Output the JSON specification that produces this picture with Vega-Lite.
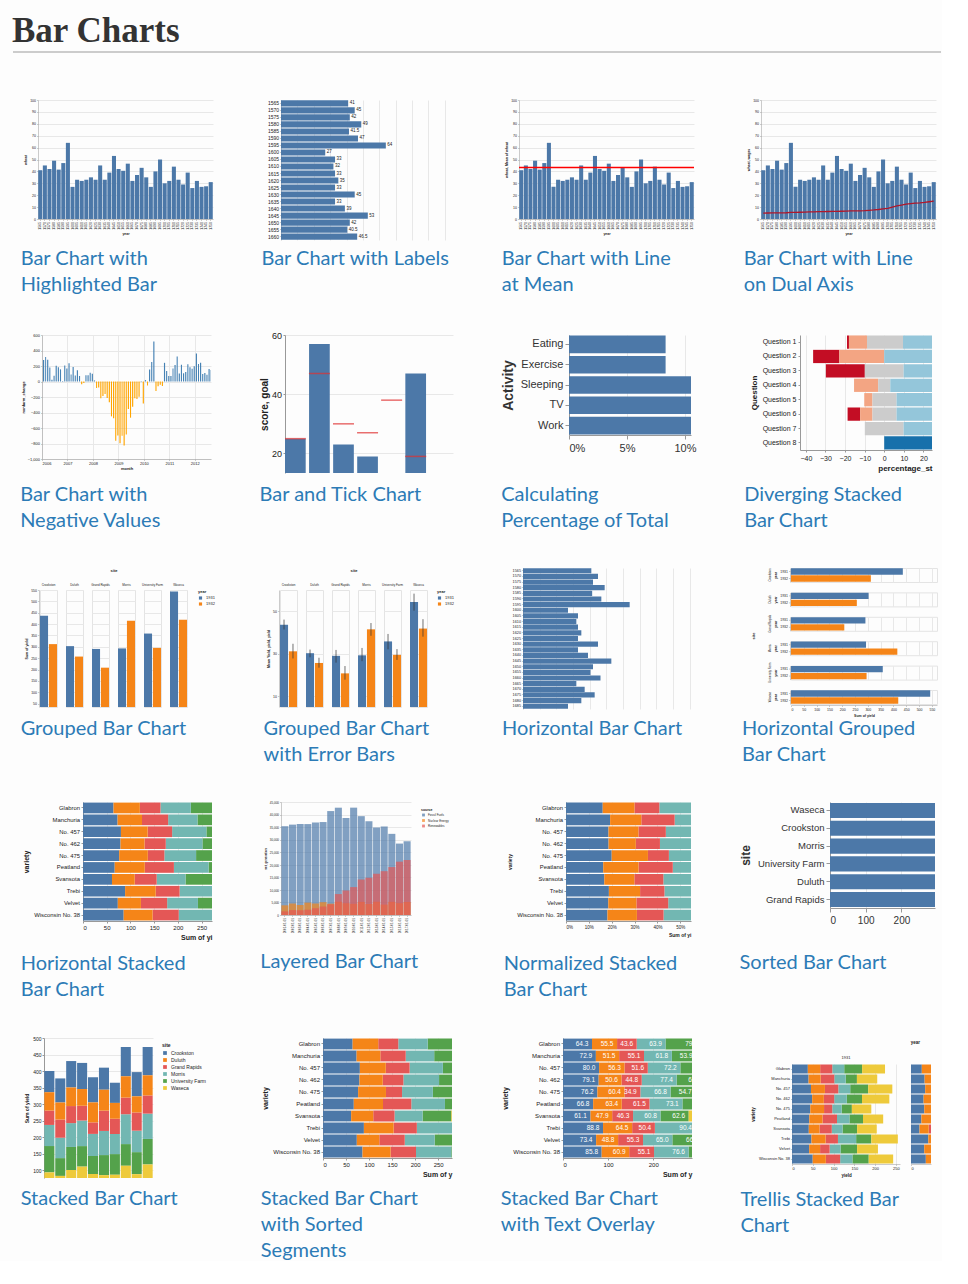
{
"$schema":"https://vega.github.io/schema/vega-lite/v6.json",
"background":"#fdfdfd",
"padding":{"left":12,"top":14,"right":0,"bottom":0},
"title":{"text":"Bar Charts","orient":"top","anchor":"start","font":"Liberation Serif","fontSize":35,"fontWeight":"bold","color":"#333333","offset":2},
"config":{
 "view":{"stroke":null},
 "font":"Liberation Sans",
 "title":{"orient":"bottom","anchor":"start","font":"Lato","fontSize":20,"fontWeight":"normal","color":"#2c7bb6"},
 "axis":{"gridColor":"#e8e8e8","domainColor":"#999999","tickColor":"#999999","labelColor":"#222222","titleColor":"#222222"},
 "legend":{"labelColor":"#222222","titleColor":"#222222"},
 "header":{"labelColor":"#222222","titleColor":"#222222"}
},
"datasets":{
 "wheat":[{"year":1565,"wheat":41,"wages":5},{"year":1570,"wheat":45,"wages":5.05},{"year":1575,"wheat":42,"wages":5.08},{"year":1580,"wheat":49,"wages":5.12},{"year":1585,"wheat":41.5,"wages":5.15},{"year":1590,"wheat":47,"wages":5.25},{"year":1595,"wheat":64,"wages":5.54},{"year":1600,"wheat":27,"wages":5.61},{"year":1605,"wheat":33,"wages":5.69},{"year":1610,"wheat":32,"wages":5.78},{"year":1615,"wheat":33,"wages":5.94},{"year":1620,"wheat":35,"wages":6.01},{"year":1625,"wheat":33,"wages":6.12},{"year":1630,"wheat":45,"wages":6.22},{"year":1635,"wheat":33,"wages":6.3},{"year":1640,"wheat":39,"wages":6.37},{"year":1645,"wheat":53,"wages":6.45},{"year":1650,"wheat":42,"wages":6.5},{"year":1655,"wheat":40.5,"wages":6.6},{"year":1660,"wheat":46.5,"wages":6.75},{"year":1665,"wheat":32,"wages":6.8},{"year":1670,"wheat":37,"wages":6.9},{"year":1675,"wheat":43,"wages":7},{"year":1680,"wheat":35,"wages":7.3},{"year":1685,"wheat":27,"wages":7.6},{"year":1690,"wheat":40,"wages":8},{"year":1695,"wheat":50,"wages":8.5},{"year":1700,"wheat":30,"wages":9},{"year":1705,"wheat":32,"wages":10},{"year":1710,"wheat":44,"wages":11},{"year":1715,"wheat":33,"wages":11.75},{"year":1720,"wheat":29,"wages":12.5},{"year":1725,"wheat":39,"wages":13},{"year":1730,"wheat":26,"wages":13.3},{"year":1735,"wheat":32,"wages":13.6},{"year":1740,"wheat":27,"wages":14},{"year":1745,"wheat":27.5,"wages":14.5},{"year":1750,"wheat":31,"wages":15},{"year":1755,"wheat":35.5,"wages":15.7},{"year":1760,"wheat":31,"wages":16.5},{"year":1765,"wheat":43,"wages":17.6},{"year":1770,"wheat":47,"wages":18.5},{"year":1775,"wheat":44,"wages":19.5},{"year":1780,"wheat":46,"wages":21},{"year":1785,"wheat":42,"wages":23},{"year":1790,"wheat":47.5,"wages":25.5},{"year":1795,"wheat":76,"wages":27.5},{"year":1800,"wheat":79,"wages":28.5},{"year":1805,"wheat":81,"wages":29.5},{"year":1810,"wheat":99,"wages":30},{"year":1815,"wheat":78},{"year":1820,"wheat":54},{"year":1821,"wheat":54}],
 "emp":[{"month":"2006-01-01","change":277},{"month":"2006-02-01","change":315},{"month":"2006-03-01","change":280},{"month":"2006-04-01","change":182},{"month":"2006-05-01","change":24},{"month":"2006-06-01","change":73},{"month":"2006-07-01","change":204},{"month":"2006-08-01","change":183},{"month":"2006-09-01","change":157},{"month":"2006-10-01","change":7},{"month":"2006-11-01","change":205},{"month":"2006-12-01","change":169},
 {"month":"2007-01-01","change":236},{"month":"2007-02-01","change":90},{"month":"2007-03-01","change":188},{"month":"2007-04-01","change":78},{"month":"2007-05-01","change":144},{"month":"2007-06-01","change":71},{"month":"2007-07-01","change":-34},{"month":"2007-08-01","change":-20},{"month":"2007-09-01","change":80},{"month":"2007-10-01","change":82},{"month":"2007-11-01","change":112},{"month":"2007-12-01","change":100},
 {"month":"2008-01-01","change":14},{"month":"2008-02-01","change":-85},{"month":"2008-03-01","change":-78},{"month":"2008-04-01","change":-215},{"month":"2008-05-01","change":-186},{"month":"2008-06-01","change":-162},{"month":"2008-07-01","change":-213},{"month":"2008-08-01","change":-267},{"month":"2008-09-01","change":-450},{"month":"2008-10-01","change":-474},{"month":"2008-11-01","change":-765},{"month":"2008-12-01","change":-697},
 {"month":"2009-01-01","change":-798},{"month":"2009-02-01","change":-701},{"month":"2009-03-01","change":-826},{"month":"2009-04-01","change":-684},{"month":"2009-05-01","change":-354},{"month":"2009-06-01","change":-467},{"month":"2009-07-01","change":-327},{"month":"2009-08-01","change":-216},{"month":"2009-09-01","change":-227},{"month":"2009-10-01","change":-198},{"month":"2009-11-01","change":6},{"month":"2009-12-01","change":-283},
 {"month":"2010-01-01","change":18},{"month":"2010-02-01","change":-50},{"month":"2010-03-01","change":156},{"month":"2010-04-01","change":251},{"month":"2010-05-01","change":516},{"month":"2010-06-01","change":-122},{"month":"2010-07-01","change":-61},{"month":"2010-08-01","change":-42},{"month":"2010-09-01","change":-57},{"month":"2010-10-01","change":241},{"month":"2010-11-01","change":137},{"month":"2010-12-01","change":71},
 {"month":"2011-01-01","change":70},{"month":"2011-02-01","change":168},{"month":"2011-03-01","change":212},{"month":"2011-04-01","change":322},{"month":"2011-05-01","change":102},{"month":"2011-06-01","change":217},{"month":"2011-07-01","change":106},{"month":"2011-08-01","change":122},{"month":"2011-09-01","change":221},{"month":"2011-10-01","change":183},{"month":"2011-11-01","change":164},{"month":"2011-12-01","change":196},
 {"month":"2012-01-01","change":360},{"month":"2012-02-01","change":226},{"month":"2012-03-01","change":243},{"month":"2012-04-01","change":96},{"month":"2012-05-01","change":110},{"month":"2012-06-01","change":88},{"month":"2012-07-01","change":160},{"month":"2012-08-01","change":150}],
 "proj":[{"project":"a","score":25,"goal":25},{"project":"b","score":57,"goal":47},{"project":"c","score":23,"goal":30},{"project":"d","score":19,"goal":27},{"project":"e","score":10,"goal":38},{"project":"f","score":47,"goal":19}],
 "act":[{"Activity":"Sleeping","PercentOfTotal":0.3333},{"Activity":"Eating","PercentOfTotal":0.0833},{"Activity":"TV","PercentOfTotal":0.1667},{"Activity":"Work","PercentOfTotal":0.3333},{"Activity":"Exercise","PercentOfTotal":0.0833}],
 "likert":[
  {"question":"Question 1","type":"Strongly disagree","start":-19.0,"end":-18.0},{"question":"Question 1","type":"Disagree","start":-18.0,"end":-8.8},{"question":"Question 1","type":"Neither agree nor disagree","start":-8.8,"end":9.6},{"question":"Question 1","type":"Agree","start":9.6,"end":60},
  {"question":"Question 2","type":"Strongly disagree","start":-36.3,"end":-22.9},{"question":"Question 2","type":"Disagree","start":-22.9,"end":0},{"question":"Question 2","type":"Agree","start":0,"end":60},
  {"question":"Question 3","type":"Strongly disagree","start":-29.8,"end":-9.9},{"question":"Question 3","type":"Neither agree nor disagree","start":-9.9,"end":9.9},{"question":"Question 3","type":"Agree","start":9.9,"end":60},
  {"question":"Question 4","type":"Disagree","start":-15.4,"end":-3.1},{"question":"Question 4","type":"Neither agree nor disagree","start":-3.1,"end":3.1},{"question":"Question 4","type":"Agree","start":3.1,"end":60},
  {"question":"Question 5","type":"Disagree","start":-10.2,"end":-6.0},{"question":"Question 5","type":"Neither agree nor disagree","start":-6.0,"end":6.3},{"question":"Question 5","type":"Agree","start":6.3,"end":60},
  {"question":"Question 6","type":"Strongly disagree","start":-18.7,"end":-12.3},{"question":"Question 6","type":"Disagree","start":-12.3,"end":-6.0},{"question":"Question 6","type":"Neither agree nor disagree","start":-6.0,"end":6.3},{"question":"Question 6","type":"Agree","start":6.3,"end":60},
  {"question":"Question 7","type":"Neither agree nor disagree","start":-9.9,"end":9.9},{"question":"Question 7","type":"Agree","start":9.9,"end":60},
  {"question":"Question 8","type":"Strongly agree","start":0,"end":60}],
 "iowa":[
  {"year":"2001-01-01","source":"Fossil Fuels","net_generation":35361},{"year":"2002-01-01","source":"Fossil Fuels","net_generation":35991},{"year":"2003-01-01","source":"Fossil Fuels","net_generation":36234},{"year":"2004-01-01","source":"Fossil Fuels","net_generation":36205},{"year":"2005-01-01","source":"Fossil Fuels","net_generation":36883},{"year":"2006-01-01","source":"Fossil Fuels","net_generation":37014},{"year":"2007-01-01","source":"Fossil Fuels","net_generation":41389},{"year":"2008-01-01","source":"Fossil Fuels","net_generation":42734},{"year":"2009-01-01","source":"Fossil Fuels","net_generation":38620},{"year":"2010-01-01","source":"Fossil Fuels","net_generation":42750},{"year":"2011-01-01","source":"Fossil Fuels","net_generation":39361},{"year":"2012-01-01","source":"Fossil Fuels","net_generation":37379},{"year":"2013-01-01","source":"Fossil Fuels","net_generation":34873},{"year":"2014-01-01","source":"Fossil Fuels","net_generation":35250},{"year":"2015-01-01","source":"Fossil Fuels","net_generation":32319},{"year":"2016-01-01","source":"Fossil Fuels","net_generation":28437},{"year":"2017-01-01","source":"Fossil Fuels","net_generation":29329},
  {"year":"2001-01-01","source":"Nuclear Energy","net_generation":3853},{"year":"2002-01-01","source":"Nuclear Energy","net_generation":4574},{"year":"2003-01-01","source":"Nuclear Energy","net_generation":3988},{"year":"2004-01-01","source":"Nuclear Energy","net_generation":4929},{"year":"2005-01-01","source":"Nuclear Energy","net_generation":4538},{"year":"2006-01-01","source":"Nuclear Energy","net_generation":5095},{"year":"2007-01-01","source":"Nuclear Energy","net_generation":4519},{"year":"2008-01-01","source":"Nuclear Energy","net_generation":5282},{"year":"2009-01-01","source":"Nuclear Energy","net_generation":4679},{"year":"2010-01-01","source":"Nuclear Energy","net_generation":4451},{"year":"2011-01-01","source":"Nuclear Energy","net_generation":5215},{"year":"2012-01-01","source":"Nuclear Energy","net_generation":4347},{"year":"2013-01-01","source":"Nuclear Energy","net_generation":5321},{"year":"2014-01-01","source":"Nuclear Energy","net_generation":4152},{"year":"2015-01-01","source":"Nuclear Energy","net_generation":5243},{"year":"2016-01-01","source":"Nuclear Energy","net_generation":4703},{"year":"2017-01-01","source":"Nuclear Energy","net_generation":5214},
  {"year":"2001-01-01","source":"Renewables","net_generation":1437},{"year":"2002-01-01","source":"Renewables","net_generation":1963},{"year":"2003-01-01","source":"Renewables","net_generation":1885},{"year":"2004-01-01","source":"Renewables","net_generation":2102},{"year":"2005-01-01","source":"Renewables","net_generation":2724},{"year":"2006-01-01","source":"Renewables","net_generation":3364},{"year":"2007-01-01","source":"Renewables","net_generation":4285},{"year":"2008-01-01","source":"Renewables","net_generation":8340},{"year":"2009-01-01","source":"Renewables","net_generation":9771},{"year":"2010-01-01","source":"Renewables","net_generation":11114},{"year":"2011-01-01","source":"Renewables","net_generation":14129},{"year":"2012-01-01","source":"Renewables","net_generation":14789},{"year":"2013-01-01","source":"Renewables","net_generation":16476},{"year":"2014-01-01","source":"Renewables","net_generation":17452},{"year":"2015-01-01","source":"Renewables","net_generation":19091},{"year":"2016-01-01","source":"Renewables","net_generation":21241},{"year":"2017-01-01","source":"Renewables","net_generation":21933}],
 "barley":[
  {"variety":"Manchuria","year":1931,"site":"University Farm","yield":27.0},{"variety":"Manchuria","year":1931,"site":"Waseca","yield":48.87},{"variety":"Manchuria","year":1931,"site":"Morris","yield":27.43},{"variety":"Manchuria","year":1931,"site":"Crookston","yield":39.93},{"variety":"Manchuria","year":1931,"site":"Grand Rapids","yield":32.97},{"variety":"Manchuria","year":1931,"site":"Duluth","yield":28.97},
  {"variety":"Glabron","year":1931,"site":"University Farm","yield":43.07},{"variety":"Glabron","year":1931,"site":"Waseca","yield":55.2},{"variety":"Glabron","year":1931,"site":"Morris","yield":28.77},{"variety":"Glabron","year":1931,"site":"Crookston","yield":38.13},{"variety":"Glabron","year":1931,"site":"Grand Rapids","yield":29.13},{"variety":"Glabron","year":1931,"site":"Duluth","yield":29.67},
  {"variety":"Svansota","year":1931,"site":"University Farm","yield":35.13},{"variety":"Svansota","year":1931,"site":"Waseca","yield":47.33},{"variety":"Svansota","year":1931,"site":"Morris","yield":25.77},{"variety":"Svansota","year":1931,"site":"Crookston","yield":40.47},{"variety":"Svansota","year":1931,"site":"Grand Rapids","yield":29.67},{"variety":"Svansota","year":1931,"site":"Duluth","yield":25.7},
  {"variety":"Velvet","year":1931,"site":"University Farm","yield":39.9},{"variety":"Velvet","year":1931,"site":"Waseca","yield":50.23},{"variety":"Velvet","year":1931,"site":"Morris","yield":26.13},{"variety":"Velvet","year":1931,"site":"Crookston","yield":41.33},{"variety":"Velvet","year":1931,"site":"Grand Rapids","yield":23.03},{"variety":"Velvet","year":1931,"site":"Duluth","yield":26.3},
  {"variety":"Trebi","year":1931,"site":"University Farm","yield":36.57},{"variety":"Trebi","year":1931,"site":"Waseca","yield":63.83},{"variety":"Trebi","year":1931,"site":"Morris","yield":43.77},{"variety":"Trebi","year":1931,"site":"Crookston","yield":46.93},{"variety":"Trebi","year":1931,"site":"Grand Rapids","yield":29.77},{"variety":"Trebi","year":1931,"site":"Duluth","yield":33.93},
  {"variety":"No. 457","year":1931,"site":"University Farm","yield":43.27},{"variety":"No. 457","year":1931,"site":"Waseca","yield":58.1},{"variety":"No. 457","year":1931,"site":"Morris","yield":28.7},{"variety":"No. 457","year":1931,"site":"Crookston","yield":45.67},{"variety":"No. 457","year":1931,"site":"Grand Rapids","yield":32.17},{"variety":"No. 457","year":1931,"site":"Duluth","yield":33.6},
  {"variety":"No. 462","year":1931,"site":"University Farm","yield":36.6},{"variety":"No. 462","year":1931,"site":"Waseca","yield":65.77},{"variety":"No. 462","year":1931,"site":"Morris","yield":30.37},{"variety":"No. 462","year":1931,"site":"Crookston","yield":48.57},{"variety":"No. 462","year":1931,"site":"Grand Rapids","yield":24.93},{"variety":"No. 462","year":1931,"site":"Duluth","yield":28.1},
  {"variety":"Peatland","year":1931,"site":"University Farm","yield":32.77},{"variety":"Peatland","year":1931,"site":"Waseca","yield":48.57},{"variety":"Peatland","year":1931,"site":"Morris","yield":29.87},{"variety":"Peatland","year":1931,"site":"Crookston","yield":41.6},{"variety":"Peatland","year":1931,"site":"Grand Rapids","yield":34.7},{"variety":"Peatland","year":1931,"site":"Duluth","yield":32.0},
  {"variety":"No. 475","year":1931,"site":"University Farm","yield":24.67},{"variety":"No. 475","year":1931,"site":"Waseca","yield":46.77},{"variety":"No. 475","year":1931,"site":"Morris","yield":22.6},{"variety":"No. 475","year":1931,"site":"Crookston","yield":44.1},{"variety":"No. 475","year":1931,"site":"Grand Rapids","yield":19.7},{"variety":"No. 475","year":1931,"site":"Duluth","yield":33.07},
  {"variety":"Wisconsin No. 38","year":1931,"site":"University Farm","yield":39.3},{"variety":"Wisconsin No. 38","year":1931,"site":"Waseca","yield":58.8},{"variety":"Wisconsin No. 38","year":1931,"site":"Morris","yield":29.47},{"variety":"Wisconsin No. 38","year":1931,"site":"Crookston","yield":49.87},{"variety":"Wisconsin No. 38","year":1931,"site":"Grand Rapids","yield":34.47},{"variety":"Wisconsin No. 38","year":1931,"site":"Duluth","yield":31.6},
  {"variety":"Manchuria","year":1932,"site":"University Farm","yield":26.9},{"variety":"Manchuria","year":1932,"site":"Waseca","yield":33.47},{"variety":"Manchuria","year":1932,"site":"Morris","yield":34.37},{"variety":"Manchuria","year":1932,"site":"Crookston","yield":32.97},{"variety":"Manchuria","year":1932,"site":"Grand Rapids","yield":22.13},{"variety":"Manchuria","year":1932,"site":"Duluth","yield":22.57},
  {"variety":"Glabron","year":1932,"site":"University Farm","yield":36.8},{"variety":"Glabron","year":1932,"site":"Waseca","yield":37.73},{"variety":"Glabron","year":1932,"site":"Morris","yield":35.13},{"variety":"Glabron","year":1932,"site":"Crookston","yield":26.17},{"variety":"Glabron","year":1932,"site":"Grand Rapids","yield":14.43},{"variety":"Glabron","year":1932,"site":"Duluth","yield":25.87},
  {"variety":"Svansota","year":1932,"site":"University Farm","yield":27.43},{"variety":"Svansota","year":1932,"site":"Waseca","yield":38.5},{"variety":"Svansota","year":1932,"site":"Morris","yield":35.03},{"variety":"Svansota","year":1932,"site":"Crookston","yield":20.63},{"variety":"Svansota","year":1932,"site":"Grand Rapids","yield":16.63},{"variety":"Svansota","year":1932,"site":"Duluth","yield":22.23},
  {"variety":"Velvet","year":1932,"site":"University Farm","yield":26.8},{"variety":"Velvet","year":1932,"site":"Waseca","yield":37.4},{"variety":"Velvet","year":1932,"site":"Morris","yield":38.83},{"variety":"Velvet","year":1932,"site":"Crookston","yield":32.07},{"variety":"Velvet","year":1932,"site":"Grand Rapids","yield":32.23},{"variety":"Velvet","year":1932,"site":"Duluth","yield":22.47},
  {"variety":"Trebi","year":1932,"site":"University Farm","yield":29.07},{"variety":"Trebi","year":1932,"site":"Waseca","yield":49.23},{"variety":"Trebi","year":1932,"site":"Morris","yield":46.63},{"variety":"Trebi","year":1932,"site":"Crookston","yield":41.83},{"variety":"Trebi","year":1932,"site":"Grand Rapids","yield":20.63},{"variety":"Trebi","year":1932,"site":"Duluth","yield":30.6},
  {"variety":"No. 457","year":1932,"site":"University Farm","yield":26.43},{"variety":"No. 457","year":1932,"site":"Waseca","yield":42.2},{"variety":"No. 457","year":1932,"site":"Morris","yield":43.53},{"variety":"No. 457","year":1932,"site":"Crookston","yield":34.33},{"variety":"No. 457","year":1932,"site":"Grand Rapids","yield":19.47},{"variety":"No. 457","year":1932,"site":"Duluth","yield":22.7},
  {"variety":"No. 462","year":1932,"site":"University Farm","yield":25.57},{"variety":"No. 462","year":1932,"site":"Waseca","yield":44.7},{"variety":"No. 462","year":1932,"site":"Morris","yield":47.0},{"variety":"No. 462","year":1932,"site":"Crookston","yield":30.53},{"variety":"No. 462","year":1932,"site":"Grand Rapids","yield":19.9},{"variety":"No. 462","year":1932,"site":"Duluth","yield":22.5},
  {"variety":"Peatland","year":1932,"site":"University Farm","yield":28.07},{"variety":"Peatland","year":1932,"site":"Waseca","yield":36.03},{"variety":"Peatland","year":1932,"site":"Morris","yield":43.2},{"variety":"Peatland","year":1932,"site":"Crookston","yield":25.23},{"variety":"Peatland","year":1932,"site":"Grand Rapids","yield":26.77},{"variety":"Peatland","year":1932,"site":"Duluth","yield":31.37},
  {"variety":"No. 475","year":1932,"site":"University Farm","yield":30.0},{"variety":"No. 475","year":1932,"site":"Waseca","yield":41.27},{"variety":"No. 475","year":1932,"site":"Morris","yield":44.23},{"variety":"No. 475","year":1932,"site":"Crookston","yield":32.13},{"variety":"No. 475","year":1932,"site":"Grand Rapids","yield":15.23},{"variety":"No. 475","year":1932,"site":"Duluth","yield":27.37},
  {"variety":"Wisconsin No. 38","year":1932,"site":"University Farm","yield":38.0},{"variety":"Wisconsin No. 38","year":1932,"site":"Waseca","yield":58.17},{"variety":"Wisconsin No. 38","year":1932,"site":"Morris","yield":47.17},{"variety":"Wisconsin No. 38","year":1932,"site":"Crookston","yield":35.9},{"variety":"Wisconsin No. 38","year":1932,"site":"Grand Rapids","yield":20.67},{"variety":"Wisconsin No. 38","year":1932,"site":"Duluth","yield":29.33}],
 "none":[]
},
"spacing":45,
"resolve":{"scale":{"color":"independent"},"legend":{"color":"independent"}},
"vconcat":[
 {"width":922,"height":1,"data":{"values":[{"a":0,"b":1,"c":0}]},"mark":{"type":"rule","color":"#cccccc","strokeWidth":2},
  "encoding":{"x":{"field":"a","type":"quantitative","scale":{"domain":[0,1],"range":[-6,922]},"axis":null},"x2":{"field":"b"},"y":{"field":"c","type":"quantitative","scale":{"domain":[0,1]},"axis":null}}},
 {"spacing":36,"resolve":{"scale":{"color":"independent"},"legend":{"color":"independent"}},"vconcat":[
  {"spacing":0,"resolve":{"scale":{"color":"independent"},"legend":{"color":"independent"}},"hconcat":[
   {"width":1,"height":1,"data":{"name":"none"},"mark":{"type":"rule"},"encoding":{}},
   {"spacing":48,"resolve":{"scale":{"color":"independent"},"legend":{"color":"independent"}},"hconcat":[
    {"title":{"text":["Bar Chart with","Highlighted Bar"],"lineHeight":26,"baseline":"top","offset":14,"dx":-3},
     "width":175,"height":119,"data":{"name":"wheat"},"transform":[{"filter":"datum.year <= 1750"}],"mark":{"type":"bar","color":"#4c78a8"},
     "encoding":{"x":{"field":"year","type":"ordinal","scale":{"paddingInner":0.12,"paddingOuter":0.05},"axis":{"title":"year","labelAngle":-90,"labelFontSize":3.5,"titleFontSize":3.5,"tickSize":1.5,"labelPadding":1,"titlePadding":2,"domainWidth":0.5,"tickWidth":0.5}},
      "y":{"field":"wheat","type":"quantitative","scale":{"domain":[0,100],"nice":false},"axis":{"title":"wheat","tickCount":10,"labelFontSize":3.5,"titleFontSize":3.5,"tickSize":1.5,"labelPadding":1,"titlePadding":2,"domainWidth":0.5,"tickWidth":0.5}}}},
    {"title":{"text":"Bar Chart with Labels","lineHeight":26,"baseline":"top","offset":9,"dx":-6},
     "width":172,"height":140,"data":{"name":"wheat"},"transform":[{"filter":"datum.year <= 1660"}],
     "encoding":{"y":{"field":"year","type":"ordinal","scale":{"paddingInner":0.12,"paddingOuter":0.05},"axis":{"title":null,"labelFontSize":5,"tickSize":1.5,"labelPadding":1,"domainWidth":0.5,"tickWidth":0.5}},
      "x":{"field":"wheat","type":"quantitative","scale":{"domain":[0,105],"nice":false},"axis":{"title":null,"labels":false,"ticks":false,"domain":false,"values":[10,20,30,40,50,60,70,80,90,100]}}},
     "layer":[{"mark":{"type":"bar","color":"#4c78a8"}},{"mark":{"type":"text","align":"left","dx":1.5,"fontSize":4.5,"color":"#222222"},"encoding":{"text":{"field":"wheat","type":"quantitative"}}}]},
    {"title":{"text":["Bar Chart with Line","at Mean"],"lineHeight":26,"baseline":"top","offset":14,"dx":-3},
     "width":175,"height":119,"data":{"name":"wheat"},
     "layer":[
      {"transform":[{"filter":"datum.year <= 1750"}],"mark":{"type":"bar","color":"#4c78a8"},
       "encoding":{"x":{"field":"year","type":"ordinal","scale":{"paddingInner":0.12,"paddingOuter":0.05},"axis":{"title":"year","labelAngle":-90,"labelFontSize":3.5,"titleFontSize":3.5,"tickSize":1.5,"labelPadding":1,"titlePadding":2,"domainWidth":0.5,"tickWidth":0.5}},
        "y":{"field":"wheat","type":"quantitative","scale":{"domain":[0,100],"nice":false},"axis":{"title":"wheat, Mean of wheat","tickCount":10,"labelFontSize":3.5,"titleFontSize":3.5,"tickSize":1.5,"labelPadding":1,"titlePadding":2,"domainWidth":0.5,"tickWidth":0.5}}}},
      {"mark":{"type":"rule","color":"red","strokeWidth":1.5},"encoding":{"y":{"aggregate":"mean","field":"wheat","type":"quantitative"}}}]},
    {"title":{"text":["Bar Chart with Line","on Dual Axis"],"lineHeight":26,"baseline":"top","offset":14,"dx":-3},
     "width":175,"height":119,"data":{"name":"wheat"},"transform":[{"filter":"datum.year <= 1750"}],
     "encoding":{"x":{"field":"year","type":"ordinal","scale":{"paddingInner":0.12,"paddingOuter":0.05},"axis":{"title":"year","labelAngle":-90,"labelFontSize":3.5,"titleFontSize":3.5,"tickSize":1.5,"labelPadding":1,"titlePadding":2,"domainWidth":0.5,"tickWidth":0.5}}},
     "layer":[
      {"mark":{"type":"bar","color":"#4c78a8"},"encoding":{"y":{"field":"wheat","type":"quantitative","scale":{"domain":[0,100],"nice":false},"axis":{"title":"wheat, wages","tickCount":10,"labelFontSize":3.5,"titleFontSize":3.5,"tickSize":1.5,"labelPadding":1,"titlePadding":2,"domainWidth":0.5,"tickWidth":0.5}}}},
      {"mark":{"type":"line","color":"#b0172a","strokeWidth":1.3},"encoding":{"y":{"field":"wages","type":"quantitative"}}}]}
   ]}
  ]},
  {"spacing":0,"resolve":{"scale":{"color":"independent"},"legend":{"color":"independent"}},"hconcat":[
   {"width":1,"height":1,"data":{"name":"none"},"mark":{"type":"rule"},"encoding":{}},
   {"spacing":48,"resolve":{"scale":{"color":"independent"},"legend":{"color":"independent"}},"hconcat":[
    {"title":{"text":["Bar Chart with","Negative Values"],"lineHeight":26,"baseline":"top","offset":14.5,"dx":-1},
     "width":169,"height":124,"data":{"name":"emp"},"mark":{"type":"bar","clip":true},
     "encoding":{"x":{"field":"month","timeUnit":"utcyearmonth","type":"temporal","scale":{"domain":[{"year":2006,"month":1,"date":1,"utc":true},{"year":2012,"month":8,"date":20,"utc":true}]},"axis":{"title":"month","format":"%Y","tickCount":7,"labelFontSize":4,"titleFontSize":4,"tickSize":1.5,"labelPadding":1,"titlePadding":1,"domainWidth":0.5,"tickWidth":0.5}},
      "y":{"field":"change","type":"quantitative","scale":{"domain":[-1000,600],"nice":false},"axis":{"title":"nonfarm_change","values":[-1000,-800,-600,-400,-200,0,200,400,600],"labelFontSize":4,"titleFontSize":4,"tickSize":1.5,"labelPadding":1,"titlePadding":2,"domainWidth":0.5,"tickWidth":0.5}},
      "color":{"condition":{"test":"datum.change > 0","value":"steelblue"},"value":"orange"}}},
    {"title":{"text":"Bar and Tick Chart","lineHeight":26,"baseline":"top","offset":12,"dx":0},
     "width":168,"height":138,"data":{"name":"proj"},
     "encoding":{"x":{"field":"project","type":"nominal","scale":{"paddingInner":0.14,"paddingOuter":0.56,"align":0},"axis":null}},
     "layer":[
      {"mark":{"type":"bar","color":"#4c78a8","clip":true},"encoding":{"y":{"field":"score","type":"quantitative","scale":{"domain":[13.4,60],"nice":false},"axis":{"title":"score, goal","values":[20,30,40,50,60],"labelFontSize":9,"titleFontSize":10,"tickSize":2,"labelPadding":1.5,"titlePadding":2}}}},
      {"mark":{"type":"tick","color":"#e03030","thickness":1.5,"size":21,"clip":true},"encoding":{"y":{"field":"goal","type":"quantitative"}}}]},
    {"title":{"text":["Calculating","Percentage of Total"],"lineHeight":26,"baseline":"top","offset":32,"dx":0},
     "width":122,"height":100,"data":{"name":"act"},"mark":{"type":"bar","color":"#4c78a8","clip":true},
     "encoding":{"y":{"field":"Activity","type":"nominal","scale":{"paddingInner":0.13,"paddingOuter":0.03},"axis":{"title":"Activity","labelFontSize":11,"titleFontSize":14,"tickSize":4,"labelPadding":2,"titlePadding":5,"labelColor":"#333333","titleColor":"#333333"}},
      "x":{"field":"PercentOfTotal","type":"quantitative","scale":{"domain":[0,0.1052],"nice":false},"axis":{"title":null,"format":"%","values":[0,0.05,0.1],"labelFontSize":11,"labelColor":"#333333","tickSize":4,"labelPadding":3}}}},
    {"title":{"text":["Diverging Stacked","Bar Chart"],"lineHeight":26,"baseline":"top","offset":13,"dx":-6},
     "width":132,"height":115,"data":{"name":"likert"},"mark":{"type":"bar","clip":true},
     "encoding":{"y":{"field":"question","type":"nominal","scale":{"paddingInner":0.08,"paddingOuter":0.03},"axis":{"title":"Question","labelFontSize":7,"titleFontSize":8,"tickSize":2,"labelPadding":2,"titlePadding":4}},
      "x":{"field":"start","type":"quantitative","scale":{"domain":[-43,24.4],"nice":false},"axis":{"title":"percentage_st","titleAnchor":"end","values":[-40,-30,-20,-10,0,10,20],"labelFontSize":7,"titleFontSize":8,"tickSize":2,"labelPadding":2,"titlePadding":3}},
      "x2":{"field":"end"},
      "color":{"field":"type","type":"nominal","scale":{"domain":["Strongly disagree","Disagree","Neither agree nor disagree","Agree","Strongly agree"],"range":["#c30d24","#f3a583","#cccccc","#94c6da","#1770ab"]},"legend":null}}}
   ]}
  ]},
  {"spacing":0,"resolve":{"scale":{"color":"independent"},"legend":{"color":"independent"}},"hconcat":[
   {"width":1,"height":1,"data":{"name":"none"},"mark":{"type":"rule"},"encoding":{}},
   {"spacing":48,"resolve":{"scale":{"color":"independent"},"legend":{"color":"independent"}},"hconcat":[
    {"spacing":0,"resolve":{"scale":{"color":"independent"},"legend":{"color":"independent"}},"vconcat":[
     {"width":1,"height":1,"data":{"name":"none"},"mark":{"type":"rule"},"encoding":{}},
     {"title":{"text":"Grouped Bar Chart","lineHeight":26,"baseline":"top","offset":11,"dx":-4},
      "data":{"name":"barley"},"spacing":7,
      "facet":{"column":{"field":"site","type":"nominal","header":{"title":"site","titleFontSize":4,"labelFontSize":3,"labelPadding":2,"titlePadding":1}}},
      "spec":{"width":17,"height":117,"view":{"stroke":"#e4e4e4"},"mark":{"type":"bar","clip":true},
       "encoding":{"x":{"field":"year","type":"nominal","scale":{"paddingInner":0.1,"paddingOuter":0},"axis":null},
        "y":{"aggregate":"sum","field":"yield","type":"quantitative","scale":{"domain":[35,550],"nice":false},"axis":{"title":"Sum of yield","values":[50,100,150,200,250,300,350,400,450,500,550],"labelFontSize":3.5,"titleFontSize":3.5,"tickSize":1.5,"labelPadding":1,"titlePadding":2,"domainWidth":0.5,"tickWidth":0.5}},
        "color":{"field":"year","type":"nominal","scale":{"range":["#4c78a8","#f58518"]},"legend":{"title":"year","titleFontSize":4,"labelFontSize":4,"symbolType":"square","symbolSize":10,"offset":10,"padding":0,"rowPadding":1,"titlePadding":1.5,"labelOffset":3}}}}}
    ]},
    {"spacing":0,"resolve":{"scale":{"color":"independent"},"legend":{"color":"independent"}},"vconcat":[
     {"width":1,"height":1,"data":{"name":"none"},"mark":{"type":"rule"},"encoding":{}},
     {"title":{"text":["Grouped Bar Chart","with Error Bars"],"lineHeight":26,"baseline":"top","offset":11,"dx":-3},
      "data":{"name":"barley"},"spacing":7,
      "facet":{"column":{"field":"site","type":"nominal","header":{"title":"site","titleFontSize":4,"labelFontSize":3,"labelPadding":2,"titlePadding":1}}},
      "spec":{"width":17,"height":117,"view":{"stroke":"#e4e4e4"},
       "encoding":{"x":{"field":"year","type":"nominal","scale":{"paddingInner":0.1,"paddingOuter":0},"axis":null}},
       "layer":[
        {"mark":{"type":"bar","clip":true},"encoding":{"y":{"aggregate":"mean","field":"yield","type":"quantitative","scale":{"domain":[5,60],"nice":false},"axis":{"title":"Mean Yield, yield","values":[10,20,30,40,50,60],"labelFontSize":3.5,"titleFontSize":3.5,"tickSize":1.5,"labelPadding":1,"titlePadding":2,"domainWidth":0.5,"tickWidth":0.5}},
         "color":{"field":"year","type":"nominal","scale":{"range":["#4c78a8","#f58518"]},"legend":{"title":"year","titleFontSize":4,"labelFontSize":4,"symbolType":"square","symbolSize":10,"offset":9,"padding":0,"rowPadding":1,"titlePadding":1.5,"labelOffset":3}}}},
        {"mark":{"type":"errorbar","extent":"ci","color":"#333333","rule":{"strokeWidth":0.7}},"encoding":{"y":{"field":"yield","type":"quantitative"}}}]}}
    ]},
    {"title":{"text":"Horizontal Bar Chart","lineHeight":26,"baseline":"top","offset":10,"dx":-10},
     "width":171,"height":141,"data":{"name":"wheat"},"transform":[{"filter":"datum.year <= 1685"}],"mark":{"type":"bar","color":"#4c78a8"},
     "encoding":{"y":{"field":"year","type":"ordinal","scale":{"paddingInner":0.08,"paddingOuter":0.03},"axis":{"title":null,"labelFontSize":3.8,"tickSize":1.5,"labelPadding":1,"domainWidth":0.5,"tickWidth":0.5}},
      "x":{"field":"wheat","type":"quantitative","scale":{"domain":[0,102.6],"nice":false},"axis":{"title":null,"labels":false,"ticks":false,"domain":false,"values":[10,20,30,40,50,60,70,80,90,100]}}}},
    {"title":{"text":["Horizontal Grouped","Bar Chart"],"lineHeight":26,"baseline":"top","offset":2.5,"dx":-10},
     "data":{"name":"barley"},"spacing":8.4,
     "facet":{"row":{"field":"site","type":"nominal","header":{"title":"site","titleFontSize":4,"labelFontSize":2.9,"labelPadding":2,"titlePadding":2}}},
     "spec":{"width":146,"height":14,"view":{"stroke":"#e4e4e4"},"mark":{"type":"bar"},
      "encoding":{"y":{"field":"year","type":"nominal","scale":{"paddingInner":0.1,"paddingOuter":0.05},"axis":{"title":"year","labelFontSize":3.5,"titleFontSize":3.5,"tickSize":1.5,"labelPadding":1,"titlePadding":2,"domainWidth":0.5,"tickWidth":0.5}},
       "x":{"aggregate":"sum","field":"yield","type":"quantitative","scale":{"domain":[0,570],"nice":false},"axis":{"title":"Sum of yield","values":[0,50,100,150,200,250,300,350,400,450,500,550],"labelFontSize":3.5,"titleFontSize":3.5,"tickSize":1.5,"labelPadding":1,"titlePadding":2,"domainWidth":0.5,"tickWidth":0.5}},
       "color":{"field":"year","type":"nominal","scale":{"range":["#4c78a8","#f58518"]},"legend":null}}}}
   ]}
  ]},
  {"spacing":0,"resolve":{"scale":{"color":"independent"},"legend":{"color":"independent"}},"hconcat":[
   {"width":1,"height":1,"data":{"name":"none"},"mark":{"type":"rule"},"encoding":{}},
   {"spacing":48,"resolve":{"scale":{"color":"independent"},"legend":{"color":"independent"}},"hconcat":[
    {"title":{"text":["Horizontal Stacked","Bar Chart"],"lineHeight":26,"baseline":"top","offset":13,"dx":-2},
     "width":129,"height":119,"data":{"name":"barley"},"mark":{"type":"bar","clip":true},
     "encoding":{"y":{"field":"variety","type":"nominal","scale":{"paddingInner":0.1,"paddingOuter":0.05},"axis":{"title":"variety","labelFontSize":5.9,"titleFontSize":7,"tickSize":2,"labelPadding":1.5,"titlePadding":4}},
      "x":{"aggregate":"sum","field":"yield","type":"quantitative","scale":{"domain":[0,272],"nice":false},"axis":{"title":"Sum of yi","titleAnchor":"end","values":[0,50,100,150,200,250],"labelFontSize":6,"titleFontSize":7,"tickSize":2,"labelPadding":1.5,"titlePadding":3}},
      "color":{"field":"site","type":"nominal","legend":null}}},
    {"title":{"text":"Layered Bar Chart","lineHeight":26,"baseline":"top","offset":19.5,"dx":-4},
     "width":130,"height":113,"data":{"name":"iowa"},"mark":{"type":"bar","opacity":0.7},
     "encoding":{"x":{"field":"year","type":"ordinal","scale":{"paddingInner":0.08,"paddingOuter":0.05},"axis":{"title":null,"labelAngle":-90,"labelFontSize":3,"tickSize":1.5,"labelPadding":1,"domainWidth":0.5,"tickWidth":0.5}},
      "y":{"field":"net_generation","type":"quantitative","stack":null,"scale":{"domain":[0,45000],"nice":false},"axis":{"title":"net_generation","tickCount":9,"labelFontSize":3,"titleFontSize":3,"tickSize":1.5,"labelPadding":1,"titlePadding":2,"domainWidth":0.5,"tickWidth":0.5}},
      "color":{"field":"source","type":"nominal","legend":{"title":"source","titleFontSize":3.5,"labelFontSize":3,"symbolType":"square","symbolSize":8,"offset":4,"padding":6,"rowPadding":0.5,"titlePadding":1,"labelOffset":2}}}},
    {"title":{"text":["Normalized Stacked","Bar Chart"],"lineHeight":26,"baseline":"top","offset":16.5,"dx":-4},
     "width":125,"height":119,"data":{"name":"barley"},"mark":{"type":"bar","clip":true},
     "encoding":{"y":{"field":"variety","type":"nominal","scale":{"paddingInner":0.1,"paddingOuter":0.05},"axis":{"title":"variety","labelFontSize":5.9,"titleFontSize":5,"tickSize":2,"labelPadding":1.5,"titlePadding":4}},
      "x":{"aggregate":"sum","field":"yield","type":"quantitative","stack":"normalize","scale":{"domain":[0,0.547],"nice":false},"axis":{"title":"Sum of yi","titleAnchor":"end","format":".1f","values":[0,0.1,0.2,0.3,0.4,0.5],"labelFontSize":4.5,"titleFontSize":5,"tickSize":2,"labelPadding":1.5,"titlePadding":3}},
      "color":{"field":"site","type":"nominal","legend":null}}},
    {"title":{"text":"Sorted Bar Chart","lineHeight":26,"baseline":"top","offset":27.5,"dx":0},
     "width":105,"height":106,"data":{"name":"barley"},"mark":{"type":"bar","color":"#4c78a8","clip":true},
     "encoding":{"y":{"field":"site","type":"nominal","sort":"-x","scale":{"paddingInner":0.15,"paddingOuter":0.05},"axis":{"title":"site","labelFontSize":9.5,"titleFontSize":12,"tickSize":4,"labelPadding":2,"titlePadding":5,"labelColor":"#333333","titleColor":"#333333"}},
      "x":{"aggregate":"sum","field":"yield","type":"quantitative","scale":{"domain":[0,294],"nice":false},"axis":{"title":null,"values":[0,100,200],"labelFontSize":10,"labelColor":"#333333","tickSize":4,"labelPadding":3}}}}
   ]}
  ]},
  {"spacing":0,"resolve":{"scale":{"color":"independent"},"legend":{"color":"independent"}},"hconcat":[
   {"width":1,"height":1,"data":{"name":"none"},"mark":{"type":"rule"},"encoding":{}},
   {"spacing":48,"resolve":{"scale":{"color":"independent"},"legend":{"color":"independent"}},"hconcat":[
    {"title":{"text":"Stacked Bar Chart","lineHeight":26,"baseline":"top","offset":11,"dx":-4},
     "width":109,"height":140,"data":{"name":"barley"},"mark":{"type":"bar","clip":true},
     "encoding":{"x":{"field":"variety","type":"nominal","scale":{"paddingInner":0.08,"paddingOuter":0.03},"axis":null},
      "y":{"aggregate":"sum","field":"yield","type":"quantitative","scale":{"domain":[76,500],"nice":false},"axis":{"title":"Sum of yield","values":[100,150,200,250,300,350,400,450,500],"labelFontSize":5,"titleFontSize":5,"tickSize":2,"labelPadding":1,"titlePadding":3}},
      "color":{"field":"site","type":"nominal","legend":{"title":"site","titleFontSize":5,"labelFontSize":5,"symbolType":"square","symbolSize":14,"offset":4,"padding":5,"rowPadding":1,"titlePadding":2,"labelOffset":3}}}},
    {"title":{"text":["Stacked Bar Chart","with Sorted","Segments"],"lineHeight":26,"baseline":"top","offset":11.5,"dx":-1},
     "width":129,"height":120,"data":{"name":"barley"},"mark":{"type":"bar","clip":true},
     "encoding":{"y":{"field":"variety","type":"nominal","scale":{"paddingInner":0.1,"paddingOuter":0.05},"axis":{"title":"variety","labelFontSize":6,"titleFontSize":7,"tickSize":2,"labelPadding":1.5,"titlePadding":4}},
      "x":{"aggregate":"sum","field":"yield","type":"quantitative","scale":{"domain":[0,280],"nice":false},"axis":{"title":"Sum of y","titleAnchor":"end","values":[0,50,100,150,200,250],"labelFontSize":6,"titleFontSize":7,"tickSize":2,"labelPadding":1.5,"titlePadding":3}},
      "color":{"field":"site","type":"nominal","legend":null},
      "order":{"field":"site","sort":"ascending"}}},
    {"title":{"text":["Stacked Bar Chart","with Text Overlay"],"lineHeight":26,"baseline":"top","offset":11.5,"dx":-1},
     "width":129,"height":120,"data":{"name":"barley"},
     "encoding":{"y":{"field":"variety","type":"nominal","scale":{"paddingInner":0.1,"paddingOuter":0.05},"axis":{"title":"variety","labelFontSize":6,"titleFontSize":7,"tickSize":2,"labelPadding":1.5,"titlePadding":4}}},
     "layer":[
      {"mark":{"type":"bar","clip":true},"encoding":{"x":{"aggregate":"sum","field":"yield","type":"quantitative","stack":"zero","scale":{"domain":[0,286],"nice":false},"axis":{"title":"Sum of y","titleAnchor":"end","values":[0,50,100,150,200,250],"labelFontSize":6,"titleFontSize":7,"tickSize":2,"labelPadding":1.5,"titlePadding":3}},"color":{"field":"site","type":"nominal","legend":null}}},
      {"mark":{"type":"text","dx":-10,"color":"white","fontSize":6.5,"clip":true},"encoding":{"x":{"aggregate":"sum","field":"yield","type":"quantitative","stack":"zero"},"detail":{"field":"site","type":"nominal"},"text":{"aggregate":"sum","field":"yield","type":"quantitative","format":".1f"}}}]},
    {"spacing":0,"resolve":{"scale":{"color":"independent"},"legend":{"color":"independent"}},"vconcat":[
     {"width":1,"height":1,"data":{"name":"none"},"mark":{"type":"rule"},"encoding":{}},
     {"title":{"text":["Trellis Stacked Bar","Chart"],"lineHeight":26,"baseline":"top","offset":12.5,"dx":-10},
      "spacing":10,
      "hconcat":[
       {"width":108,"height":100,"title":{"text":["","1931"],"orient":"top","anchor":"middle","font":"Liberation Sans","fontSize":4,"fontWeight":"normal","color":"#222222","lineHeight":16,"offset":4},
        "data":{"name":"barley"},"transform":[{"filter":"datum.year == 1931"}],"mark":{"type":"bar"},
        "encoding":{"y":{"field":"variety","type":"nominal","scale":{"paddingInner":0.1,"paddingOuter":0.05},"axis":{"title":"variety","labelFontSize":4,"titleFontSize":4.5,"tickSize":1.5,"labelPadding":1,"titlePadding":3,"domainWidth":0.5,"tickWidth":0.5}},
         "x":{"aggregate":"sum","field":"yield","type":"quantitative","scale":{"domain":[0,260],"nice":false},"axis":{"title":"yield","values":[0,50,100,150,200,250],"labelFontSize":4,"titleFontSize":4.5,"tickSize":1.5,"labelPadding":1,"titlePadding":2,"domainWidth":0.5,"tickWidth":0.5}},
         "color":{"field":"site","type":"nominal","legend":null}}},
       {"width":20,"height":100,"title":{"text":["year",""],"orient":"top","anchor":"start","font":"Liberation Sans","fontSize":4.5,"fontWeight":"bold","color":"#222222","lineHeight":16,"offset":4},
        "data":{"name":"barley"},"transform":[{"filter":"datum.year == 1932"}],"mark":{"type":"bar","clip":true},
        "encoding":{"y":{"field":"variety","type":"nominal","scale":{"paddingInner":0.1,"paddingOuter":0.05},"axis":null},
         "x":{"aggregate":"sum","field":"yield","type":"quantitative","scale":{"domain":[0,48.4],"nice":false},"axis":{"title":null,"values":[0],"labelFontSize":4,"tickSize":1.5,"labelPadding":1,"domainWidth":0.5,"tickWidth":0.5}},
         "color":{"field":"site","type":"nominal","legend":null}}}
      ]}
    ]}
   ]}
  ]}
 ]}
]
}
